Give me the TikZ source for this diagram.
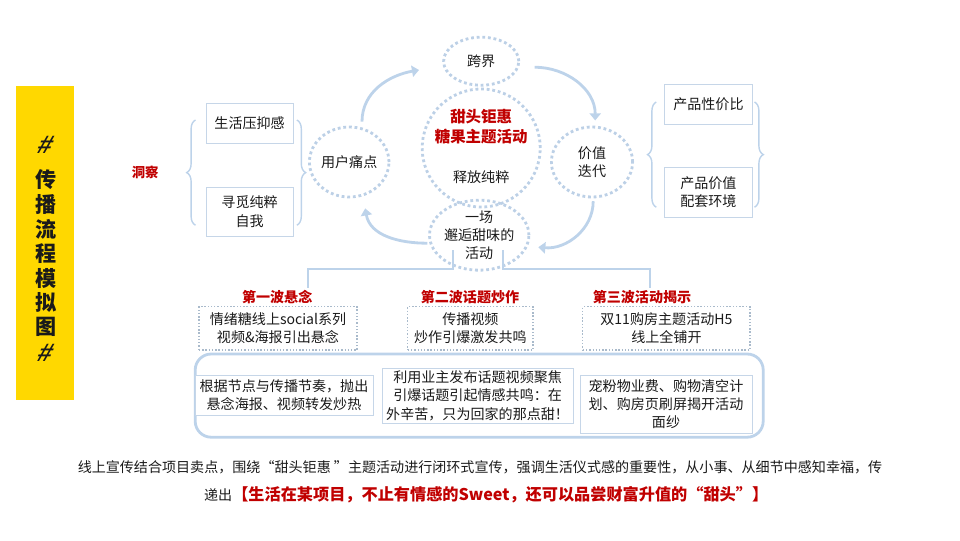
\documentclass[tikz,border=0pt]{standalone}
\usepackage{fontspec}
\setmainfont{Noto Sans CJK SC}
\newfontfamily\hashfont{Liberation Sans}
\usepackage{tikz}
\usetikzlibrary{arrows.meta,positioning,calc,shapes.geometric,decorations.pathreplacing}
\definecolor{ink}{HTML}{1A1A1A}
\definecolor{alert}{HTML}{C00000}
\definecolor{banner}{HTML}{FFD800}
\definecolor{skyline}{HTML}{BDD3EA}
\definecolor{dotblue}{HTML}{BCD0E6}
\definecolor{cardline}{HTML}{C6D6E8}
\definecolor{dotgray}{HTML}{A9BACB}

\begin{document}
\begin{tikzpicture}[font=\fontsize{10}{13}\selectfont,color=ink]
    \tikzset{
      bubble/.style={ellipse,draw=dotblue,line width=2pt,dash pattern=on 2pt off 2pt,inner sep=0pt,align=center},
      card/.style={rectangle,draw=cardline,line width=0.7pt,fill=white,align=center,inner sep=1pt},
      wavecard/.style={rectangle,draw=dotgray,line width=0.9pt,dash pattern=on 1pt off 1.3pt,align=center,inner sep=1pt},
      headline/.style={font=\fontsize{10}{12}\selectfont\bfseries,color=alert},
      hashmark/.style={font=\fontsize{18}{18}\hashfont\bfseries,xslant=0.35,transform shape},
      flow/.style={draw=skyline,line width=2pt,-{Triangle[length=5pt,width=8pt]}},
      branch/.style={draw=skyline,line width=1.6pt},
      curly/.style={draw=skyline,line width=1pt,decorate,decoration={brace,amplitude=0.22cm}}
    }
    \useasboundingbox (0,0) rectangle (24,-13.5);
    % side banner
    \fill[banner] (0.4,-2.15) rectangle (1.85,-10.0);
    \begin{scope}[shift={(1.15,-3.63)}]
      \node[hashmark] (hashtop) at (0,0) {\#};
    \end{scope}
    \begin{scope}[shift={(1.15,-8.83)}]
      \node[hashmark] (hashbot) at (0,0) {\#};
    \end{scope}
    \foreach \ch [count=\i] in {传,播,流,程,模,拟,图} {
      \node[font=\fontsize{15}{15}\selectfont\bfseries] (side\i) at (1.15,{-4.5-0.6125*(\i-1)}) {\ch};
    }
    \node[headline,font=\fontsize{9.5}{12}\selectfont\bfseries] (insight) at (3.63,-4.3) {洞察};
    % insight cards
    \node[card,minimum width=2.18cm,minimum height=1.0cm] (pain1) at (6.24,-3.08) {生活压抑感};
    \node[card,minimum width=2.18cm,minimum height=1.23cm] (pain2) at (6.24,-5.29) {寻觅纯粹\\自我};
    \node[card,minimum width=2.18cm,minimum height=1.0cm] (value1) at (17.71,-2.6) {产品性价比};
    \node[card,minimum width=2.18cm,minimum height=1.25cm] (value2) at (17.71,-4.8) {产品价值\\配套环境};
    \draw[curly] ($(pain2.west)+(-0.25,-0.34)$) -- ($(pain1.west)+(-0.25,0.08)$);
    \draw[curly] ($(pain1.east)+(0.08,0.08)$) -- ($(pain2.east)+(0.08,-0.34)$);
    \draw[curly] ($(value2.west)+(-0.2,-0.38)$) -- ($(value1.west)+(-0.2,0.05)$);
    \draw[curly] ($(value1.east)+(0.05,0.05)$) -- ($(value2.east)+(0.05,-0.38)$);
    % cycle
    \node[bubble,minimum width=1.95cm,minimum height=1.75cm] (pain) at (8.73,-4.05) {用户痛点};
    \node[bubble,minimum width=1.88cm,minimum height=1.2cm] (cross) at (12.03,-1.53) {跨界};
    \node[bubble,minimum width=2.95cm,minimum height=2.95cm] (core) at (12.03,-3.7) {};
    \node[bubble,minimum width=2.03cm,minimum height=1.75cm] (value) at (14.8,-4.05) {价值\\迭代};
    \node[bubble,minimum width=2.05cm,minimum height=1.75cm] (meet) at (11.98,-5.88) {一场\\邂逅甜味的\\活动};
    \node[font=\fontsize{11}{14}\selectfont\bfseries,color=alert,align=center] (coretitle) at (12.03,-3.17) {甜头钜惠\\糖果主题活动};
    \node (corenote) at (12.03,-4.43) {释放纯粹};
    \draw[flow] ($(pain.north)+(0.32,0.1)$) to[out=90,in=190] ($(cross.west)+(-0.58,-0.22)$);
    \draw[flow] ($(cross.east)+(0.36,-0.15)$) to[out=0,in=90] ($(value.north)+(0.08,0.13)$);
    \draw[flow] ($(value.south)+(0.03,-0.07)$) to[out=-90,in=-5] ($(meet.east)+(0.2,-0.3)$);
    \draw[flow] ($(meet.west)+(-0.02,-0.2)$) to[out=180,in=-80] ($(pain.south)+(0.4,-0.25)$);
    % three waves
    \draw[branch] ($(meet.center)+(-0.65,-0.37)$) -- ++(0,-0.48) -| ++(-3.63,-0.47);
    \draw[branch] ($(meet.center)+(0.6,-0.37)$) -- ++(0,-0.48) -| ++(3.67,-0.47);
    \node[headline] (wave1) at (6.93,-7.43) {第一波悬念};
    \node[headline] (wave2) at (11.75,-7.43) {第二波话题炒作};
    \node[headline] (wave3) at (16.05,-7.43) {第三波活动揭示};
    \node[wavecard,minimum width=3.95cm,minimum height=1.08cm] (plan1) at (6.95,-8.21) {情绪糖线上social系列\\视频\&海报引出悬念};
    \node[wavecard,minimum width=3.13cm,minimum height=1.08cm] (plan2) at (11.76,-8.21) {传播视频\\炒作引爆激发共鸣};
    \node[wavecard,minimum width=4.18cm,minimum height=1.08cm] (plan3) at (16.66,-8.21) {双11购房主题活动H5\\线上全铺开};
    \node[draw=skyline,line width=2pt,rounded corners=0.4cm,minimum width=14.2cm,minimum height=2.08cm] (stage) at (11.98,-9.89) {};
    \node[card,minimum width=4.45cm,minimum height=1.0cm] (step1) at (7.1,-9.88) {根据节点与传播节奏，抛出\\悬念海报、视频转发炒热};
    \node[card,minimum width=4.78cm,minimum height=1.38cm] (step2) at (11.94,-9.89) {利用业主发布话题视频聚焦\\引爆话题引起情感共鸣：在\\外辛苦，只为回家的那点甜！};
    \node[card,minimum width=4.3cm,minimum height=1.45cm] (step3) at (16.65,-10.1) {宠粉物业费、购物清空计\\划、购房页刷屏揭开活动\\面纱};
    % summary
    \node (summary) at (12.0,-11.68) {线上宣传结合项目卖点，围绕“甜头钜惠 ”主题活动进行闭环式宣传，强调生活仪式感的重要性，从小事、从细节中感知幸福，传};
    \node[anchor=west] (pledge) at (4.98,-12.38) {递出{\fontsize{11.5}{14}\selectfont\bfseries\color{alert}【生活在某项目，不止有情感的Sweet，还可以品尝财富升值的“甜头”】}};
  \end{tikzpicture}
\end{document}
